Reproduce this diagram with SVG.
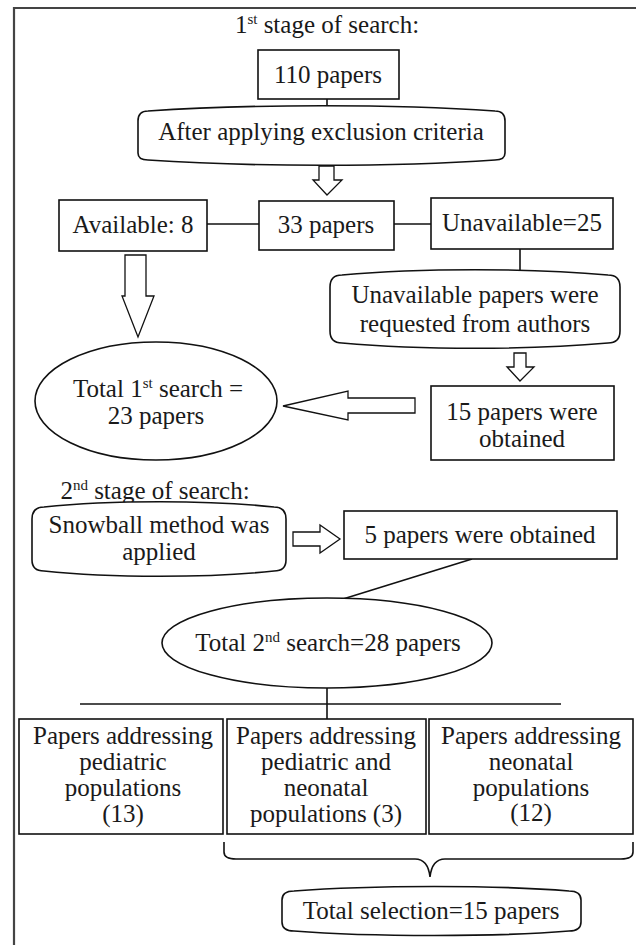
<svg xmlns="http://www.w3.org/2000/svg" width="636" height="945" viewBox="0 0 636 945" font-family="'Liberation Serif', Tinos, 'Times New Roman', Times, 'DejaVu Serif', serif">
<style>
text{font-family:"Liberation Serif",Tinos,"Times New Roman",Times,"DejaVu Serif",serif;font-size:25px;fill:#1a1a1a;text-anchor:middle}
.b{fill:#fff;stroke:#111;stroke-width:1.6}
.a{fill:#fff;stroke:#111;stroke-width:1.3;stroke-linejoin:miter}
.c{fill:none;stroke:#111;stroke-width:1.6}
.sup{font-size:15px}
</style>
<rect width="636" height="945" fill="#fff"/>
<g id="frame"><path d="M14 945 L14 8 L636 8" fill="none" stroke="#444" stroke-width="2.2"/></g>
<g id="connectors">
<line class="c" x1="327" y1="99" x2="327" y2="108"/>
<line class="c" x1="207" y1="224" x2="259" y2="224"/>
<line class="c" x1="394" y1="224" x2="431" y2="224"/>
<line class="c" x1="520" y1="249" x2="520" y2="271"/>
<line class="c" x1="472" y1="559" x2="343" y2="599"/>
<line class="c" x1="327" y1="688" x2="327" y2="719"/>
<line class="c" x1="80" y1="704" x2="561" y2="704"/>
<path class="a" d="M319 166 L334 166 L334 180 L342 180 L327 195 L313 180 L319 180 Z"/>
<path class="a" d="M125 255 L146 255 L146 296 L154 296 L138 337 L122 296 L125 296 Z"/>
<path class="a" d="M514 353 L526 353 L526 367 L534 367 L520 381 L507 367 L514 367 Z"/>
<path class="a" d="M415 398 L415 413 L348 413 L348 420 L283 406 L348 391 L348 398 Z"/>
<path class="a" d="M293 532 L320 532 L320 525 L340 539 L320 553 L320 546 L293 546 Z"/>
<path class="c" d="M224 842 L224 852 Q224 859 236 859 L415 859 Q428 859 430 877 Q432 859 445 859 L621 859 Q633 859 633 852 L633 842"/>
</g>
<g id="stage1"><text x="327" y="33">1<tspan class="sup" dy="-9">st</tspan><tspan dy="9"> stage of search:</tspan></text></g>
<g id="n110"><rect class="b" x="258" y="50" width="141" height="49"/><text x="328" y="83">110 papers</text></g>
<g id="exclusion"><path class="b" d="M148 111 C250 104 395 104 495 111 Q505 111 505 121 L505 153 Q505 160 495 160 C395 167 250 167 148 160 Q138 160 138 153 L138 121 Q138 111 148 111 Z"/><text x="321" y="140">After applying exclusion criteria</text></g>
<g id="available"><rect class="b" x="59" y="200" width="148" height="51"/><text x="133" y="233">Available: 8</text></g>
<g id="n33"><rect class="b" x="259" y="201" width="135" height="49"/><text x="326" y="233">33 papers</text></g>
<g id="unavailable"><rect class="b" x="431" y="198" width="182" height="51"/><text x="522" y="231">Unavailable=25</text></g>
<g id="requested"><path class="b" d="M342 275 C420 268 530 268 608 275 Q620 275 620 287 L620 331 Q620 343 608 343 C530 350 420 350 342 343 Q330 343 330 331 L330 287 Q330 275 342 275 Z"/><text x="475" y="303">Unavailable papers were</text><text x="475" y="332">requested from authors</text></g>
<g id="obtained15"><rect class="b" x="431" y="386" width="183" height="74"/><text x="522" y="420">15 papers were</text><text x="522" y="447">obtained</text></g>
<g id="total1"><ellipse class="b" cx="156" cy="401" rx="121" ry="59"/><text x="158" y="397">Total 1<tspan class="sup" dy="-9">st</tspan><tspan dy="9"> search =</tspan></text><text x="156" y="424">23 papers</text></g>
<g id="stage2"><text x="155" y="499">2<tspan class="sup" dy="-9">nd</tspan><tspan dy="9"> stage of search:</tspan></text></g>
<g id="snowball"><path class="b" d="M44 507 C110 500 210 500 274 507 Q286 507 286 519 L286 560 Q286 571 274 571 C210 578 110 578 44 571 Q32 571 32 560 L32 519 Q32 507 44 507 Z"/><text x="159" y="533">Snowball method was</text><text x="159" y="560">applied</text></g>
<g id="obtained5"><rect class="b" x="344" y="511" width="273" height="48"/><text x="480" y="543">5 papers were obtained</text></g>
<g id="total2"><ellipse class="b" cx="327" cy="643" rx="165" ry="45"/><text x="328" y="651">Total 2<tspan class="sup" dy="-9">nd</tspan><tspan dy="9"> search=28 papers</tspan></text></g>
<g id="pediatric"><rect class="b" x="19" y="719" width="204" height="115"/><text x="123" y="744">Papers addressing</text><text x="123" y="770">pediatric</text><text x="123" y="796">populations</text><text x="123" y="822">(13)</text></g>
<g id="both"><rect class="b" x="227" y="719" width="199" height="115"/><text x="326" y="744">Papers addressing</text><text x="326" y="770">pediatric and</text><text x="326" y="796">neonatal</text><text x="326" y="822">populations (3)</text></g>
<g id="neonatal"><rect class="b" x="429" y="719" width="204" height="115"/><text x="531" y="744">Papers addressing</text><text x="531" y="770">neonatal</text><text x="531" y="796">populations</text><text x="531" y="821">(12)</text></g>
<g id="selection"><path class="b" d="M294 891 C370 885 500 885 569 891 Q581 891 581 900 L581 922 Q581 931 569 931 C500 937 370 937 294 931 Q282 931 282 922 L282 900 Q282 891 294 891 Z"/><text x="431" y="919">Total selection=15 papers</text></g>
</svg>
